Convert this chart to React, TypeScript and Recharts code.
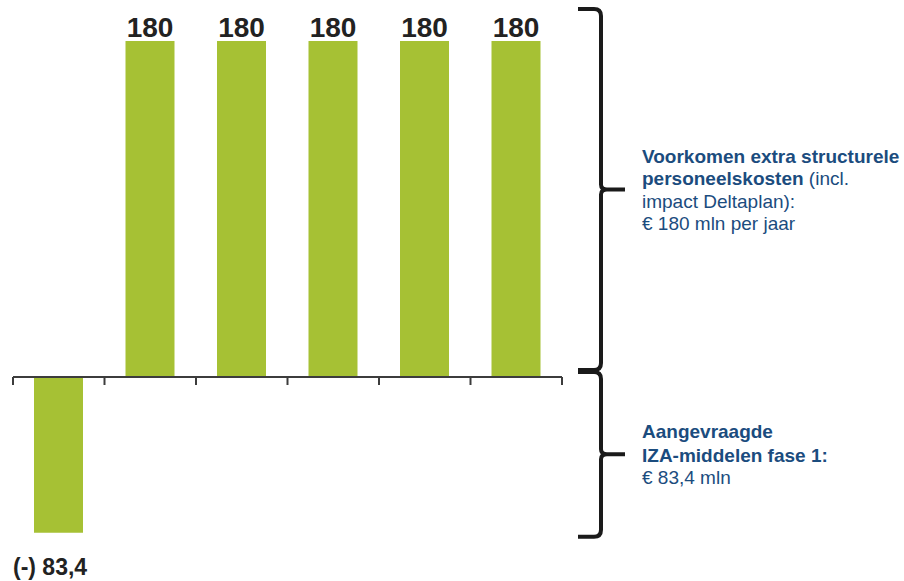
import React from 'react';
import { BarChart, Bar, XAxis, YAxis, ReferenceLine, LabelList } from 'recharts';

// Bedragen in mln euro: eerste kolom is de aanvraag, daarna de jaarlijkse besparing
const categories = ['IZA fase 1', 'jaar 1', 'jaar 2', 'jaar 3', 'jaar 4', 'jaar 5'];
const amounts = [-83.4, 180, 180, 180, 180, 180];

const data = categories.map((name, i) => ({ name, value: amounts[i] }));

const WIDTH = 904;
const HEIGHT = 581;
const MARGIN = { top: 41, right: 342, bottom: 36, left: 13 };
const Y_DOMAIN: [number, number] = [-90, 180];
const TICK_LEN = 4.3; // in data units, ~8px

const GREEN = '#a6c134';
const BLUE = '#1b4c7e';
const DARK = '#222222';
const AXIS = '#3c3c3c';
const FONT = '"Liberation Sans", Arial, Helvetica, sans-serif';

// same linear mapping the y-axis uses, for the braces beside the plot
const plotHeight = HEIGHT - MARGIN.top - MARGIN.bottom;
const yPx = (v: number) =>
  MARGIN.top + ((Y_DOMAIN[1] - v) / (Y_DOMAIN[1] - Y_DOMAIN[0])) * plotHeight;

const fmt = (v: number) => (v < 0 ? `(-) ${Math.abs(v).toString().replace('.', ',')}` : `${v}`);

const renderValueLabel = (props: any) => {
  const x = Number(props.x);
  const y = Number(props.y);
  const w = Number(props.width);
  const h = Number(props.height);
  const value = Number(props.value);
  const top = Math.min(y, y + h);
  const bottom = Math.max(y, y + h);
  if (value < 0) {
    return (
      <text x={x - 21} y={bottom + 42} fill={DARK} fontSize={23} fontWeight="bold" fontFamily={FONT}>
        {fmt(value)}
      </text>
    );
  }
  return (
    <text x={x + w / 2} y={top - 4} textAnchor="middle" fill={DARK} fontSize={28} fontWeight="bold" fontFamily={FONT}>
      {fmt(value)}
    </text>
  );
};

function bracePath(top: number, bottom: number, mid: number) {
  const xl = 578;
  const xs = 601;
  const xt = 625;
  const r = 7;
  return [
    `M${xl},${top} L${xs - r},${top} Q${xs},${top} ${xs},${top + r}`,
    `L${xs},${mid - 5} Q${xs},${mid} ${xs + 6},${mid} L${xt},${mid}`,
    `M${xs + 6},${mid} Q${xs},${mid} ${xs},${mid + 5}`,
    `L${xs},${bottom - r} Q${xs},${bottom} ${xs - r},${bottom} L${xl},${bottom}`,
  ].join(' ');
}

function Annotations() {
  const upTop = yPx(amounts[1]) - 32;
  const upBottom = yPx(0) - 7;
  const upMid = (upTop + upBottom) / 2;
  const downTop = yPx(0) - 5;
  const downBottom = yPx(amounts[0]) + 4;
  const downMid = (downTop + downBottom) / 2;
  const tx = 642;
  return (
    <svg
      width={WIDTH}
      height={HEIGHT}
      style={{ position: 'absolute', left: 0, top: 0, pointerEvents: 'none' }}
    >
      <path d={bracePath(upTop, upBottom, upMid)} fill="none" stroke="#1a1a1a" strokeWidth={4} />
      <path d={bracePath(downTop, downBottom, downMid)} fill="none" stroke="#1a1a1a" strokeWidth={4} />
      <text x={tx} y={upMid - 27} fill={BLUE} fontSize={19} fontFamily={FONT}>
        <tspan fontWeight="bold">Voorkomen extra structurele</tspan>
        <tspan x={tx} dy={22.5} fontWeight="bold">personeelskosten</tspan>
        <tspan> (incl.</tspan>
        <tspan x={tx} dy={22.5}>impact Deltaplan):</tspan>
        <tspan x={tx} dy={22.5}>€ 180 mln per jaar</tspan>
      </text>
      <text x={tx} y={downMid - 16} fill={BLUE} fontSize={19} fontFamily={FONT}>
        <tspan fontWeight="bold">Aangevraagde</tspan>
        <tspan x={tx} dy={24} fontWeight="bold">IZA-middelen fase 1:</tspan>
        <tspan x={tx} dy={22}>€ 83,4 mln</tspan>
      </text>
    </svg>
  );
}

export default function App() {
  const last = categories[categories.length - 1];
  return (
    <div style={{ position: 'relative', width: WIDTH, height: HEIGHT, background: '#fff' }}>
      <style>{`body { margin: 0; }`}</style>
      <BarChart width={WIDTH} height={HEIGHT} data={data} margin={MARGIN}>
        <XAxis xAxisId="cat" dataKey="name" hide />
        <YAxis type="number" domain={Y_DOMAIN} allowDataOverflow hide />
        <Bar xAxisId="cat" dataKey="value" fill={GREEN} barSize={49} isAnimationActive={false}>
          <LabelList dataKey="value" content={renderValueLabel} />
        </Bar>
        <ReferenceLine xAxisId="cat" y={0} stroke={AXIS} strokeWidth={2} />
        {/* tick marks on the category boundaries, hanging below the zero line */}
        {categories.map((c) => (
          <ReferenceLine
            key={c}
            xAxisId="cat"
            position="start"
            segment={[{ x: c, y: 0 }, { x: c, y: -TICK_LEN }]}
            stroke={AXIS}
            strokeWidth={2}
          />
        ))}
        <ReferenceLine
          xAxisId="cat"
          position="end"
          segment={[{ x: last, y: 0 }, { x: last, y: -TICK_LEN }]}
          stroke={AXIS}
          strokeWidth={2}
        />
      </BarChart>
      <Annotations />
    </div>
  );
}
